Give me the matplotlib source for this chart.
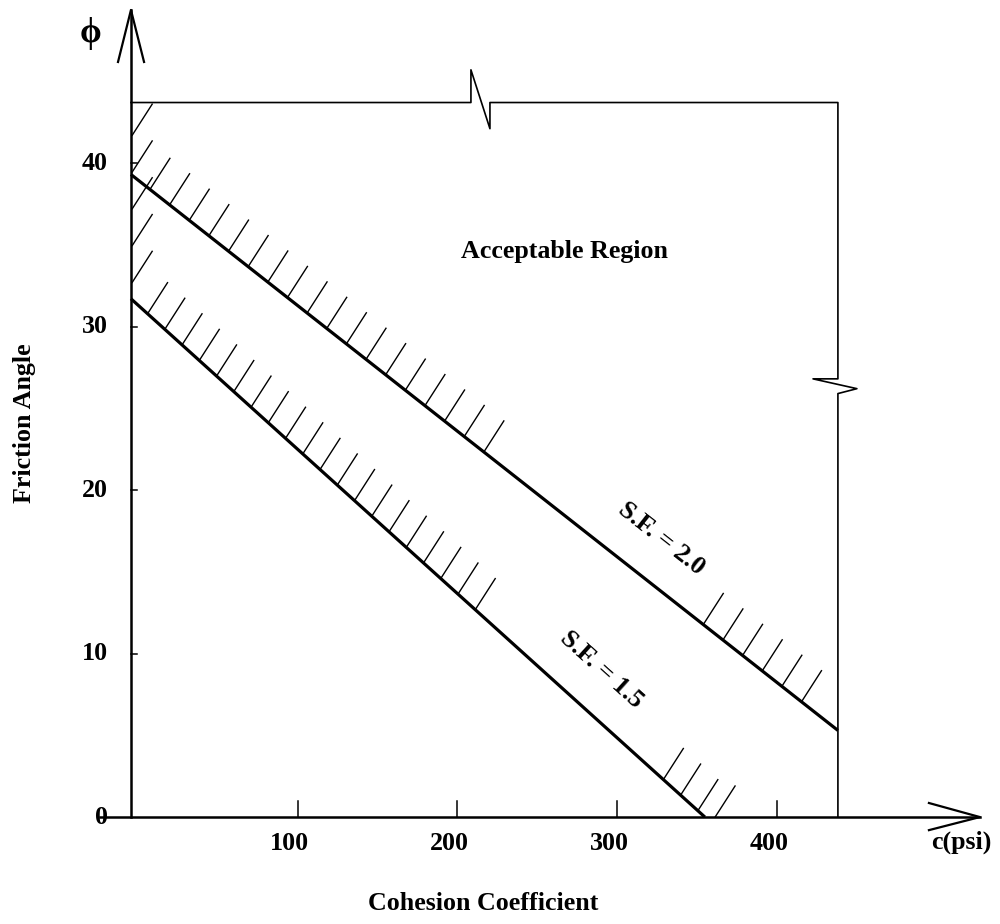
import numpy as np
import matplotlib.pyplot as plt

# values (c in psi, phi in degrees)
c_ticks = [100, 200, 300, 400]
c_tick_labels = ["100", "200", "300", "400"]
phi_ticks = [0, 10, 20, 30, 40]
phi_tick_labels = ["0", "10", "20", "30", "40"]

sf15_c = [-4.4, 355.0]
sf15_phi = [31.7, 0.0]
sf20_c = [-4.4, 438.3]
sf20_phi = [39.3, 5.3]

c_axis = -4.4      # where the vertical axis sits
c_right = 438.3    # right edge of the acceptable region
phi_top = 43.7     # top edge of the acceptable region

# break symbols on the region boundary
top_break_c = [208.5, 220.4]
top_break_phi = [45.7, 42.1]
right_break_c = [422.7, 450.2]
right_break_phi = [26.8, 26.2, 25.9]

# stretches of each line that carry hatching (c ranges)
sf20_hatch = [(7.5, 218), (354, 420)]
sf15_hatch = [(6.0, 216), (329, 362)]

plt.rcParams["font.family"] = ["Liberation Serif", "DejaVu Serif"]
plt.rcParams["font.weight"] = "bold"

fig = plt.figure(figsize=(10, 9.24), dpi=100)
ax = fig.add_axes([0, 0, 1, 1])
ax.set_xlim(-86.4, 539.8)
ax.set_ylim(-6.54, 49.97)
ax.axis("off")

# axes with open arrow heads
ax.plot([-24.0, 527.2], [0, 0], color="black", lw=1.8)
ax.plot([495.3, 527.2, 495.3], [0.86, 0, -0.80], color="black", lw=1.6)
ax.plot([c_axis, c_axis], [0, 49.36], color="black", lw=1.8)
ax.plot([-12.5, c_axis, 3.8], [46.18, 49.36, 46.18], color="black", lw=1.6)

for c in c_ticks:
    ax.plot([c, c], [0, 1.0], color="black", lw=1.1)
for p in phi_ticks[1:]:
    ax.plot([c_axis, c_axis + 3.8], [p, p], color="black", lw=1.1)

# boundary of the acceptable region, with break marks
bx = [c_axis, top_break_c[0], top_break_c[0], top_break_c[1], top_break_c[1],
      c_right, c_right, right_break_c[0], right_break_c[1], c_right, c_right]
by = [phi_top, phi_top, top_break_phi[0], top_break_phi[1], phi_top,
      phi_top, right_break_phi[0], right_break_phi[0], right_break_phi[1],
      right_break_phi[2], 0]
ax.plot(bx, by, color="black", lw=1.2)

# safety factor lines
ax.plot(sf15_c, sf15_phi, color="black", lw=2.3, solid_capstyle="butt")
ax.plot(sf20_c, sf20_phi, color="black", lw=2.3, solid_capstyle="butt")

# hatch strokes on the safe side
hdc, hdp = 12.5, 1.9


def hatch_line(cs, ps, ranges, step):
    for start, stop in ranges:
        for c in np.arange(start, stop, step):
            p = max(np.interp(c, cs, ps), 0)
            ax.plot([c, c + hdc], [p, p + hdp], color="black", lw=1.0)


hatch_line(sf20_c, sf20_phi, sf20_hatch, 12.3)
hatch_line(sf15_c, sf15_phi, sf15_hatch, 10.8)
for p in np.arange(32.7, 42.5, 2.25):
    ax.plot([c_axis + 0.8, c_axis + 0.8 + hdc], [p, p + hdp], color="black", lw=1.0)

# labels
fs = 18.7
for c, lab in zip(c_ticks, c_tick_labels):
    ax.text(c - 5, -1.59, lab, ha="center", va="center", fontsize=fs, fontweight="bold")
for p, lab in zip(phi_ticks, phi_tick_labels):
    ax.text(-19.0, p, lab, ha="right", va="center", fontsize=fs, fontweight="bold")

ax.text(216, -5.26, "Cohesion Coefficient", ha="center", va="center", fontsize=fs, fontweight="bold")
ax.text(-70.8, 24.1, "Friction Angle", ha="center", va="center", rotation=90, fontsize=fs, fontweight="bold")
ax.text(515.3, -1.53, "c(psi)", ha="center", va="center", fontsize=fs, fontweight="bold")
ax.text(-30, 47.95, "ϕ", ha="center", va="center", fontsize=25, fontweight="bold")
ax.text(266.8, 34.56, "Acceptable Region", ha="center", va="center", fontsize=fs, fontweight="bold")


def line_angle(cs, ps):
    p0 = ax.transData.transform((cs[0], ps[0]))
    p1 = ax.transData.transform((cs[1], ps[1]))
    return np.degrees(np.arctan2(p1[1] - p0[1], p1[0] - p0[0]))


ax.text(328, 17.06, "S.F. = 2.0", ha="center", va="center", fontsize=19, fontweight="bold",
        rotation=line_angle(sf20_c, sf20_phi), rotation_mode="anchor")
ax.text(290.5, 8.99, "S.F. = 1.5", ha="center", va="center", fontsize=19, fontweight="bold",
        rotation=line_angle(sf15_c, sf15_phi), rotation_mode="anchor")

fig.savefig("out.png", dpi=100)
